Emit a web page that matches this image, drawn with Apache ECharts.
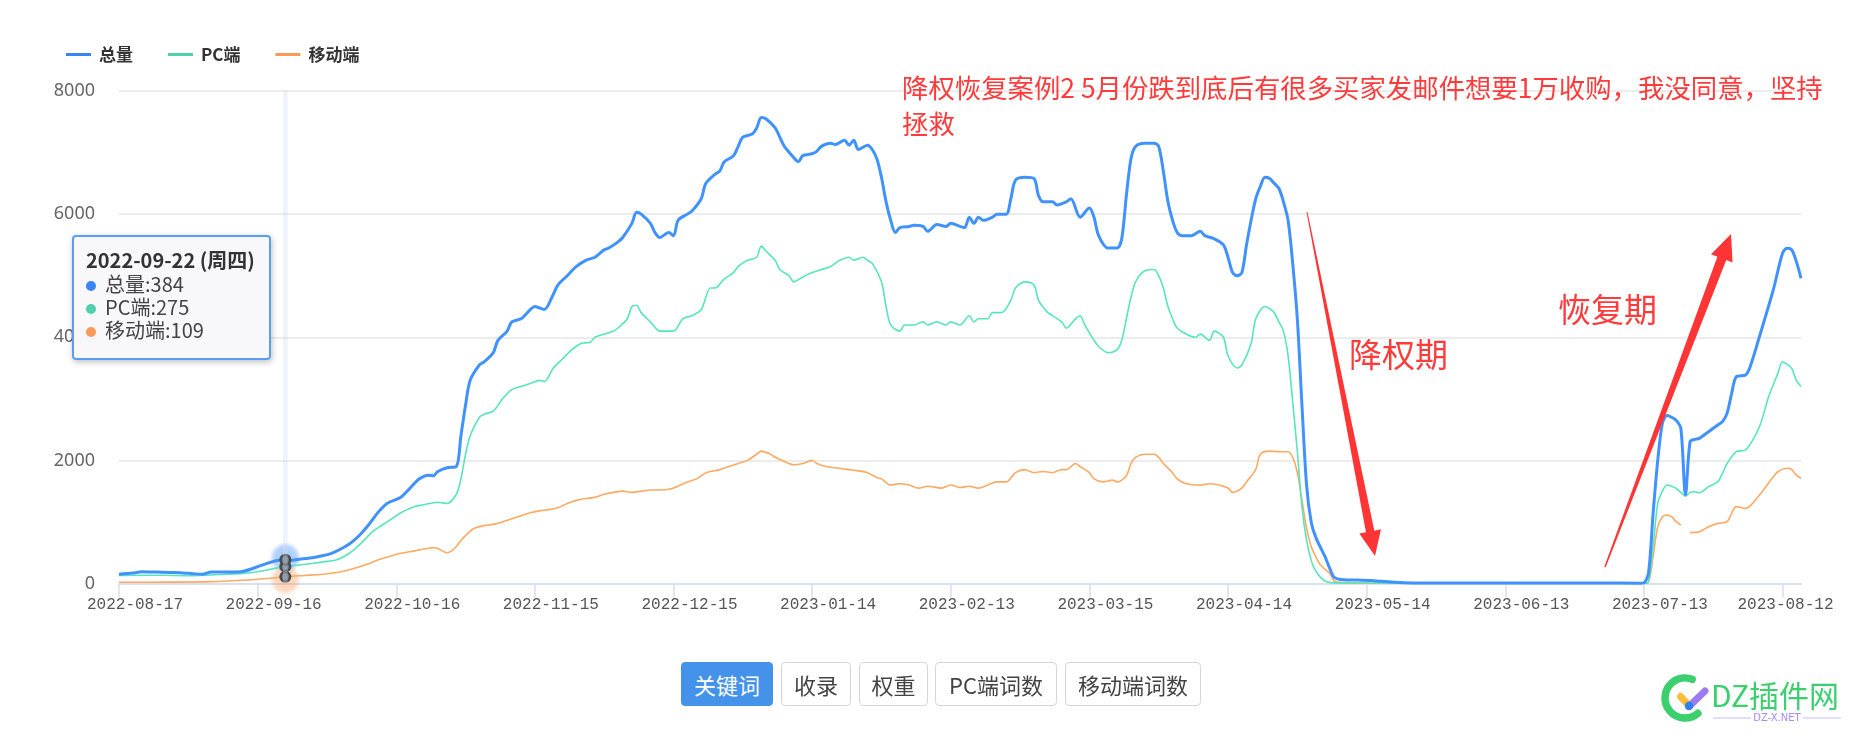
<!DOCTYPE html>
<html>
<head>
<meta charset="utf-8">
<script src="https://cdn.jsdelivr.net/npm/echarts@6/dist/echarts.min.js"></script>
<style>
html,body{margin:0;padding:0;background:#fff;}
#chart{position:absolute;left:0;top:0;width:1860px;height:742px;}
.btn{position:absolute;top:662px;height:44px;box-sizing:border-box;border:1px solid #d6d6d6;border-radius:4px;background:#fff;color:#444;font:22px "Noto Sans CJK SC",sans-serif;display:flex;align-items:center;justify-content:center;}
.btn.on{background:#4492e9;border-color:#4492e9;color:#fff;}
</style>
</head>
<body>
<div id="chart"></div>
<div class="btn on" style="left:681px;width:92px">关键词</div>
<div class="btn" style="left:781px;width:70px">收录</div>
<div class="btn" style="left:859px;width:69px">权重</div>
<div class="btn" style="left:935px;width:122px">PC端词数</div>
<div class="btn" style="left:1065px;width:136px">移动端词数</div>
<script>
// ---------- data ----------
const startDate = '2022-08-17';
const dayCount = 365;
const labelEvery = 30;
const seriesNames = ['总量', 'PC端', '移动端'];
const weekNames = ['周日', '周一', '周二', '周三', '周四', '周五', '周六'];
const highlightDay = 36; // 2022-09-22

// [dayIndex, value]
const totalData = [[0,150],[3,170],[5,192],[8,185],[11,178],[13,176],[16,160],[18,150],[20,188],[23,185],[27,200],[31,300],[34,370],[36,384],[37,373],[39,395],[41,409],[44,450],[46,490],[48,560],[50,650],[52,780],[54,950],[56,1150],[58,1300],[61,1400],[63,1550],[65,1700],[67,1760],[68,1750],[69,1820],[71,1880],[73,1900],[74,2400],[75,2900],[76,3300],[78,3550],[79,3600],[81,3750],[82,3950],[84,4100],[85,4250],[87,4300],[89,4450],[90,4500],[92,4450],[94,4700],[95,4850],[97,5000],[99,5150],[101,5250],[103,5300],[105,5420],[106,5450],[108,5550],[109,5620],[111,5850],[112,6030],[113,6000],[115,5850],[116,5700],[117,5620],[119,5700],[120,5650],[121,5900],[123,6000],[124,6050],[126,6250],[127,6500],[129,6650],[130,6700],[131,6850],[133,6950],[134,7100],[135,7250],[137,7300],[138,7400],[139,7570],[140,7550],[142,7400],[143,7250],[144,7100],[146,6920],[147,6850],[148,6950],[150,6980],[151,7020],[152,7100],[154,7150],[155,7130],[157,7200],[158,7120],[159,7200],[160,7050],[162,7120],[163,7050],[164,6900],[165,6600],[166,6200],[167,5900],[168,5700],[169,5780],[171,5800],[172,5820],[174,5800],[175,5720],[177,5830],[179,5800],[180,5850],[182,5800],[183,5780],[184,5950],[185,5850],[186,5950],[187,5900],[189,5950],[190,6000],[192,6000],[193,6250],[194,6550],[196,6600],[198,6580],[199,6300],[200,6200],[202,6200],[203,6150],[205,6200],[206,6250],[208,5950],[210,6100],[211,5950],[212,5650],[214,5450],[216,5450],[217,5600],[218,6300],[219,6900],[220,7100],[222,7150],[224,7150],[225,7100],[226,6700],[227,6200],[228,5900],[229,5700],[230,5650],[232,5650],[234,5720],[235,5650],[237,5600],[239,5500],[240,5300],[241,5050],[242,5000],[243,5050],[244,5500],[245,5900],[246,6250],[247,6450],[248,6600],[249,6580],[250,6500],[251,6420],[252,6200],[253,5900],[254,5200],[255,4300],[256,2900],[257,1600],[258,1000],[259,750],[261,435],[262,250],[263,100],[265,60],[268,55],[271,50],[273,35],[276,20],[280,10],[290,8],[300,8],[310,8],[320,8],[329,5],[330,10],[331,170],[332,1145],[333,2000],[334,2600],[335,2727],[336,2700],[337,2650],[338,2521],[339,1440],[340,2304],[341,2340],[342,2358],[344,2466],[346,2575],[347,2629],[348,2764],[349,3089],[350,3360],[352,3387],[353,3522],[355,4009],[358,4768],[360,5364],[361,5445],[362,5418],[363,5228],[364,4958]];

const pcData = [[0,130],[5,135],[10,133],[15,125],[20,140],[27,165],[31,203],[34,250],[36,275],[39,300],[42,328],[45,360],[47,382],[49,450],[51,560],[53,700],[55,850],[57,950],[59,1050],[61,1150],[64,1250],[66,1280],[69,1320],[71,1300],[73,1450],[74,1700],[75,2100],[76,2400],[78,2700],[79,2750],[81,2800],[83,3000],[85,3150],[87,3200],[89,3250],[91,3300],[92,3280],[94,3500],[96,3650],[98,3800],[100,3900],[102,3920],[103,4000],[105,4050],[107,4100],[108,4150],[110,4300],[111,4500],[112,4520],[113,4400],[115,4250],[117,4100],[118,4100],[120,4100],[122,4300],[124,4350],[126,4450],[128,4800],[129,4800],[131,4950],[133,5050],[134,5150],[136,5250],[138,5300],[139,5480],[140,5400],[142,5250],[143,5100],[145,5000],[146,4900],[148,4980],[150,5050],[152,5100],[154,5150],[156,5250],[158,5300],[159,5250],[161,5300],[162,5250],[163,5200],[165,4900],[166,4500],[167,4200],[169,4100],[170,4200],[172,4200],[174,4250],[175,4200],[177,4250],[179,4200],[180,4250],[182,4200],[184,4350],[185,4250],[186,4300],[188,4300],[189,4400],[191,4400],[193,4600],[194,4800],[196,4900],[198,4850],[199,4600],[201,4400],[202,4350],[204,4250],[205,4150],[207,4300],[208,4350],[209,4200],[211,3950],[212,3850],[214,3750],[216,3800],[217,3950],[218,4300],[219,4650],[220,4900],[222,5080],[224,5100],[225,5000],[226,4800],[227,4500],[228,4300],[229,4150],[231,4050],[233,4000],[234,4050],[236,3950],[237,4100],[239,4000],[240,3700],[242,3500],[243,3550],[245,3900],[246,4300],[248,4500],[250,4400],[251,4250],[252,4100],[253,3700],[254,2950],[255,2150],[256,1250],[257,700],[258,380],[259,200],[261,40],[263,10],[270,5],[290,3],[310,3],[330,3],[331,30],[332,600],[333,1300],[334,1500],[335,1600],[336,1580],[337,1546],[338,1480],[339,1420],[340,1480],[341,1491],[342,1475],[344,1573],[346,1654],[347,1790],[348,1950],[350,2141],[352,2169],[355,2547],[357,3034],[359,3414],[360,3603],[361,3560],[362,3496],[363,3300],[364,3200]];

const mobileData = [[0,20],[10,22],[20,30],[28,57],[32,80],[36,109],[40,130],[44,150],[48,190],[51,247],[54,320],[56,382],[59,450],[61,490],[64,530],[66,560],[68,580],[69,570],[71,500],[72,530],[73,600],[74,700],[76,850],[77,900],[79,940],[81,960],[83,1000],[85,1050],[87,1100],[89,1150],[91,1180],[93,1200],[95,1230],[97,1300],[99,1350],[101,1380],[103,1400],[105,1450],[107,1480],[109,1500],[111,1480],[113,1500],[115,1520],[117,1520],[119,1530],[121,1580],[123,1650],[125,1700],[127,1800],[128,1820],[130,1850],[132,1900],[134,1950],[136,2000],[138,2100],[139,2150],[141,2100],[142,2050],[144,1980],[146,1930],[148,1950],[150,2000],[151,1950],[153,1900],[155,1880],[158,1850],[160,1830],[162,1800],[164,1720],[165,1700],[167,1600],[169,1620],[171,1600],[173,1550],[175,1580],[178,1550],[180,1600],[182,1560],[184,1580],[186,1550],[188,1600],[190,1650],[192,1650],[194,1800],[196,1850],[198,1800],[200,1820],[202,1800],[204,1850],[205,1850],[207,1950],[208,1900],[210,1800],[211,1700],[213,1650],[215,1680],[216,1650],[218,1750],[219,1950],[220,2050],[222,2100],[224,2100],[225,2050],[226,1950],[228,1800],[229,1700],[231,1620],[234,1600],[236,1620],[238,1600],[240,1550],[241,1480],[243,1550],[244,1650],[246,1850],[247,2100],[249,2150],[251,2141],[253,2141],[254,2050],[255,1800],[256,1356],[257,900],[258,600],[259,435],[260,300],[262,166],[263,40],[265,15],[280,5],[300,3],[330,3],[331,20],[332,435],[333,923],[334,1080],[335,1113],[336,1085],[337,1004],[338,950],[339,'-'],[340,826],[342,840],[344,923],[346,977],[348,1004],[350,1248],[352,1221],[355,1437],[358,1735],[359,1816],[361,1871],[362,1850],[363,1760],[364,1709]];

const noteText = '降权恢复案例2 5月份跌到底后有很多买家发邮件想要1万收购，我没同意，坚持\n拯救';
const dropText = '降权期';
const recoverText = '恢复期';

// ---------- build ----------
function pad(n){return n < 10 ? '0' + n : '' + n;}
const categories = [];
const weekdays = [];
(function(){
  const p = startDate.split('-').map(Number);
  const t0 = Date.UTC(p[0], p[1] - 1, p[2]);
  for (let i = 0; i < dayCount; i++) {
    const d = new Date(t0 + i * 86400000);
    categories.push(d.getUTCFullYear() + '-' + pad(d.getUTCMonth() + 1) + '-' + pad(d.getUTCDate()));
    weekdays.push(weekNames[d.getUTCDay()]);
  }
})();

const COLORS = ['#3a85f4', '#4fd1ac', '#f89a5a'];
const HALO_RGB = ['58,133,244', '79,209,172', '248,154,90'];
const WIDTHS = [3, 1.6, 1.6];

function arrow(tail, tip, tailW, shaftW, headLen, headW) {
  const dx = tip[0] - tail[0], dy = tip[1] - tail[1];
  const L = Math.sqrt(dx * dx + dy * dy);
  const ux = dx / L, uy = dy / L, nx = -uy, ny = ux;
  const bx = tip[0] - ux * headLen, by = tip[1] - uy * headLen;
  return [
    [tail[0] + nx * tailW / 2, tail[1] + ny * tailW / 2],
    [bx + nx * shaftW / 2, by + ny * shaftW / 2],
    [bx + nx * headW / 2, by + ny * headW / 2],
    [tip[0], tip[1]],
    [bx - nx * headW / 2, by - ny * headW / 2],
    [bx - nx * shaftW / 2, by - ny * shaftW / 2],
    [tail[0] - nx * tailW / 2, tail[1] - ny * tailW / 2]
  ];
}

const RED = '#ff3b3b';
const LOGO_GREEN = '#3ccf6e';
const graphics = [
  {id: 'note', type: 'text', x: 902, y: 70, z: 100, style: {text: noteText, font: '26.4px "Noto Sans CJK SC"', lineHeight: 36, fill: RED}},
  {id: 'drop', type: 'text', x: 1349, y: 338, z: 100, style: {text: dropText, font: '33px "Noto Sans CJK SC"', fill: RED}},
  {id: 'rec', type: 'text', x: 1558, y: 293, z: 100, style: {text: recoverText, font: '33px "Noto Sans CJK SC"', fill: RED}},
  {id: 'a1', type: 'polygon', z: 100, shape: {points: arrow([1307, 212], [1375, 556], 1, 8.5, 25, 22)}, style: {fill: '#ff3535'}},
  {id: 'a2', type: 'polygon', z: 100, shape: {points: arrow([1605, 567], [1731, 234], 1.5, 9.5, 26, 23)}, style: {fill: '#ff3535'}},
  // watermark logo
  {id: 'l1', type: 'arc', z: 100, shape: {cx: 1685, cy: 698, r: 20, startAngle: 50 * Math.PI / 180, endAngle: 291 * Math.PI / 180, clockwise: true}, style: {stroke: LOGO_GREEN, lineWidth: 7.5, fill: null, lineCap: 'round'}},
  {id: 'l2', type: 'line', z: 100, shape: {x1: 1680.5, y1: 696.5, x2: 1688.5, y2: 705}, style: {stroke: '#fbbd3a', lineWidth: 7, lineCap: 'round'}},
  {id: 'l3', type: 'line', z: 100, shape: {x1: 1690.5, y1: 705, x2: 1705, y2: 691}, style: {stroke: '#9a7bf0', lineWidth: 7, lineCap: 'round'}},
  {id: 'l4', type: 'circle', z: 101, shape: {cx: 1689, cy: 706, r: 4.2}, style: {fill: '#2f7ff0'}},
  {id: 'l5', type: 'text', x: 1711, y: 696, z: 100, style: {text: 'DZ插件网', font: '30px "Noto Sans CJK SC"', fill: LOGO_GREEN, verticalAlign: 'middle'}},
  {id: 'l6', type: 'text', x: 1777, y: 718, z: 100, style: {text: 'DZ-X.NET', font: '10px "DejaVu Sans"', fill: '#a58cf5', align: 'center', verticalAlign: 'middle'}},
  {id: 'l7', type: 'line', z: 100, shape: {x1: 1713, y1: 718, x2: 1751, y2: 718}, style: {stroke: '#c9b9fb', lineWidth: 1}},
  {id: 'l8', type: 'line', z: 100, shape: {x1: 1803, y1: 718, x2: 1841, y2: 718}, style: {stroke: '#c9b9fb', lineWidth: 1}}
];

const seriesData = [totalData, pcData, mobileData];
const series = seriesNames.map((name, i) => ({
  name: name,
  type: 'line',
  data: seriesData[i],
  showSymbol: false,
  symbol: 'emptyCircle',
  symbolSize: 8,
  smooth: 0.3,
  connectNulls: false,
  lineStyle: {width: WIDTHS[i], color: COLORS[i]},
  itemStyle: {color: COLORS[i]},
  emphasis: {
    scale: 1.2,
    lineStyle: {width: WIDTHS[i]},
    itemStyle: {color: '#6f7f8f', borderColor: '#4a4a4a', borderWidth: 2.5}
  },
  z: 3 - i
}));

const chart = echarts.init(document.getElementById('chart'), null, {renderer: 'canvas'});
chart.setOption({
  animation: false,
  color: COLORS,
  textStyle: {fontFamily: '"Noto Sans CJK SC", "Noto Sans", sans-serif'},
  legend: {
    data: seriesNames,
    left: 61, top: 41,
    icon: 'rect', itemWidth: 25, itemHeight: 3, itemGap: 35,
    itemStyle: {borderWidth: 0},
    textStyle: {fontSize: 17, fontWeight: 'bold', color: '#333', padding: [0, 0, 0, 3]}
  },
  grid: {left: 119, right: 59, top: 91, bottom: 158.5},
  tooltip: {
    trigger: 'axis',
    axisPointer: {type: 'shadow', shadowStyle: {color: 'rgba(210,219,238,0.35)'}},
    position: [72, 235],
    alwaysShowContent: true,
    transitionDuration: 0,
    backgroundColor: 'rgba(248,248,250,0.97)',
    borderColor: '#5b9cf4',
    borderWidth: 2,
    padding: [10, 14, 17, 12],
    extraCssText: 'box-shadow:1px 2px 6px rgba(0,0,0,0.25);border-radius:4px;',
    formatter: function (params) {
      const idx = Math.round(params[0].value[0]);
      let html = '<div style="font:bold 20px \'Noto Sans CJK SC\';line-height:25px;color:#333">' +
        categories[idx] + ' (' + weekdays[idx] + ')</div>';
      params.forEach(function (p) {
        html += '<div style="font:20px \'Noto Sans CJK SC\';line-height:23px;color:#444">' +
          '<span style="display:inline-block;width:10px;height:10px;border-radius:5px;margin-right:9px;vertical-align:1px;background:' +
          COLORS[p.seriesIndex] + '"></span>' + p.seriesName + ':' + p.value[1] + '</div>';
      });
      return html;
    }
  },
  xAxis: {
    type: 'category',
    data: categories,
    boundaryGap: false,
    axisLine: {lineStyle: {color: '#d8e0ee', width: 2}},
    axisTick: {show: true, interval: labelEvery - 1, length: 14, lineStyle: {color: '#d8e0ee', width: 1.5}},
    axisLabel: {
      interval: labelEvery - 1,
      fontFamily: '"Liberation Mono", monospace',
      fontSize: 16,
      color: '#555',
      margin: 13,
      padding: [0, 0, 0, 32],
      formatter: function (val, idx) { return idx === 360 ? '{e|' + val + '}' : val; },
      rich: {e: {fontFamily: '"Liberation Mono", monospace', fontSize: 16, color: '#555', padding: [0, 26, 0, 0]}}
    },
    splitLine: {show: false}
  },
  yAxis: {
    type: 'value',
    min: 0, max: 8000, interval: 2000,
    axisLine: {show: false},
    axisTick: {show: false},
    splitLine: {lineStyle: {color: '#ececec', width: 2}},
    axisLabel: {fontFamily: '"Noto Sans", sans-serif', fontSize: 18, color: '#666', margin: 24,
      formatter: function (v) { return String(v); }}
  },
  series: series,
  graphic: graphics
});

// soft halos around the hovered points (positions from the library's scales)
function valueAt(arr, day) {
  for (let k = 0; k < arr.length; k++) if (arr[k][0] === day) return arr[k][1];
  return null;
}
const halos = [0, 2].map(function (si) {
  const p = chart.convertToPixel({gridIndex: 0}, [highlightDay, valueAt(seriesData[si], highlightDay)]);
  return {
    id: 'halo' + si, type: 'circle', z: 1,
    shape: {cx: p[0], cy: p[1] + (si === 2 ? 3 : -2), r: 16},
    style: {fill: {type: 'radial', x: 0.5, y: 0.5, r: 0.5, colorStops: [
      {offset: 0, color: 'rgba(' + HALO_RGB[si] + ',0.5)'},
      {offset: 0.7, color: 'rgba(' + HALO_RGB[si] + ',0.34)'},
      {offset: 1, color: 'rgba(' + HALO_RGB[si] + ',0)'}]}}
  };
});
chart.setOption({graphic: graphics.concat(halos)});

const pt = chart.convertToPixel({gridIndex: 0}, [highlightDay, 4000]);
chart.dispatchAction({type: 'showTip', x: pt[0], y: pt[1]});
</script>
</body>
</html>
